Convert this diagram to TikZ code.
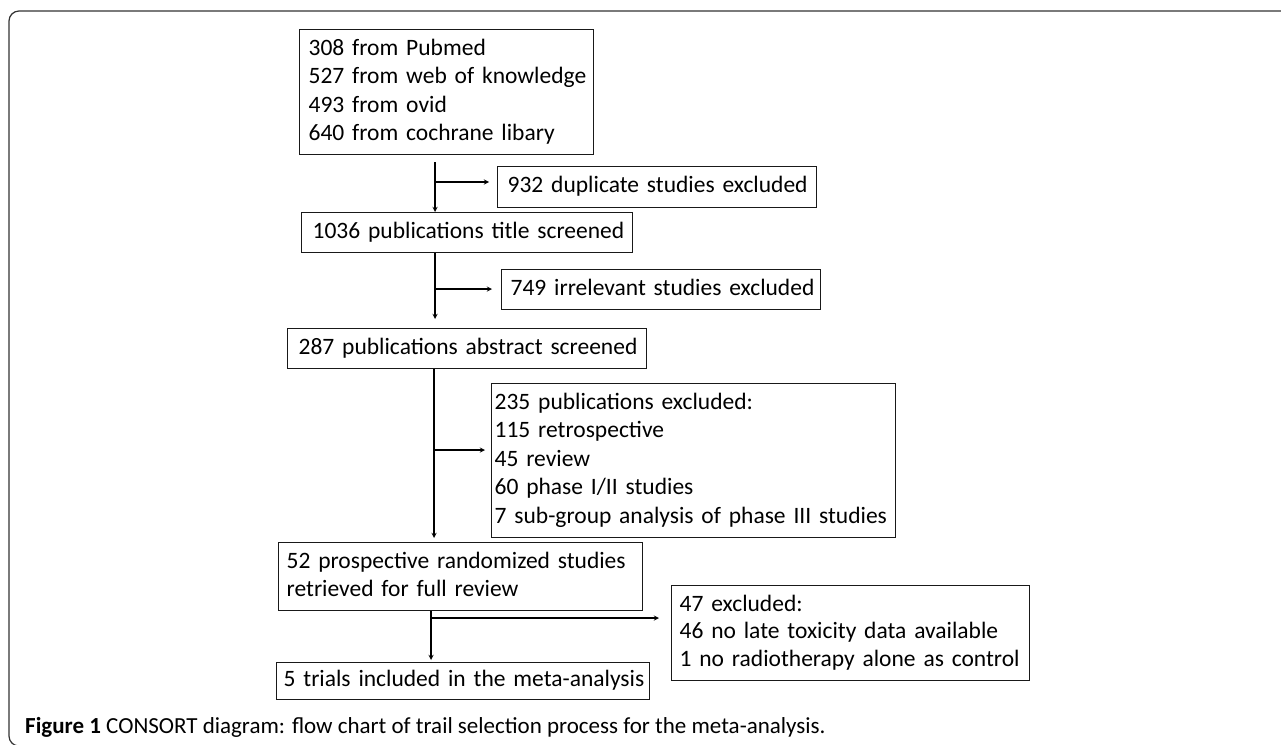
\documentclass[tikz,border=0pt]{standalone}
\usepackage{fontspec}
\setmainfont{Carlito}
\usetikzlibrary{calc}

% lines of a box, never broken
\newcommand{\boxlines}[1]{\begin{tabular}{@{}l@{}}#1\end{tabular}}

\tikzset{
  box/.style={draw=black!90, line width=1.3pt, anchor=north west, align=left,
    inner ysep=0pt, font=\fontsize{23.5}{28.5}\selectfont},
  arr/.style={->, line width=1.3pt},
}

\begin{document}
\begin{tikzpicture}[x=1pt, y=-1pt, >=stealth]
	\useasboundingbox (0,0) rectangle (1281,744);
	\clip (0,0) rectangle (1281,744);
	% outer frame, open to the right and below
	\draw[black!80, line width=1.2pt, rounded corners=10pt] (1300,11) -- (9,11) -- (9,746) -- (40,746);

	% boxes
	\node[box, inner xsep=9pt, text width=276pt, minimum height=125pt] (src) at (299,29)
		{\boxlines{308 from Pubmed\\527 from web of knowledge\\493 from ovid\\640 from cochrane libary}};
	\node[box, inner xsep=10pt, text width=299pt, minimum height=41pt] (dup) at (497,166)
		{\boxlines{932 duplicate studies excluded}};
	\node[box, inner xsep=11pt, text width=309pt, minimum height=40pt] (title) at (301,212)
		{\boxlines{1036 publications title screened}};
	\node[box, inner xsep=9pt, text width=301pt, minimum height=40pt] (irr) at (501,269)
		{\boxlines{749 irrelevant studies excluded}};
	\node[box, inner xsep=11pt, text width=337pt, minimum height=40pt] (abs) at (287,328)
		{\boxlines{287 publications abstract screened}};
	\node[box, inner xsep=3pt, text width=398pt, minimum height=154pt] (exc) at (491,383)
		{\boxlines{235 publications excluded:\\115 retrospective\\45 review\\60 phase I/II studies\\7 sub-group analysis of phase III studies}};
	\node[box, inner xsep=8pt, text width=348pt, minimum height=68pt] (full) at (278,542)
		{\boxlines{52 prospective randomized studies\\retrieved for full review}};
	\node[box, inner xsep=8pt, text width=342pt, minimum height=95pt, font=\fontsize{23.5}{27.5}\selectfont] (late) at (671,585)
		{\boxlines{47 excluded:\\46 no late toxicity data available\\1 no radiotherapy alone as control}};
	\node[box, inner xsep=7pt, text width=359pt, minimum height=37pt] (incl) at (276,662)
		{\boxlines{5 trials included in the meta-analysis}};

	% stems and branches
	\coordinate (k1) at (435,162);
	\coordinate (b1) at (435,182);
	\coordinate (k2) at ($(title.south west)+(134,0)$);
	\coordinate (b2) at (435,289);
	\coordinate (k3) at ($(abs.south west)+(147,0)$);
	\coordinate (b3) at (434,450);
	\coordinate (k4) at ($(full.south west)+(153,0)$);
	\coordinate (b4) at (431,618);

	\draw[arr] (k1) -- (k1 |- title.north);
	\draw[arr, shorten >=8pt] (b1) -- (b1 -| dup.west);
	\draw[arr, shorten >=9pt] (k2) -- (k2 |- abs.north);
	\draw[arr, shorten >=9pt] (b2) -- (b2 -| irr.west);
	\draw[arr, shorten >=4pt] (k3) -- (k3 |- full.north);
	\draw[arr, shorten >=6pt] (b3) -- (b3 -| exc.west);
	\draw[arr, shorten >=2pt] (k4) -- (k4 |- incl.north);
	\draw[arr, shorten >=12pt] (b4) -- (b4 -| late.west);

	% caption
	\node[anchor=west, inner sep=0pt, font=\fontsize{23}{27}\selectfont] (cap) at (25,727)
		{\textbf{Figure 1} CONSORT diagram: flow chart of trail selection process for the meta-analysis.};
\end{tikzpicture}
\end{document}
